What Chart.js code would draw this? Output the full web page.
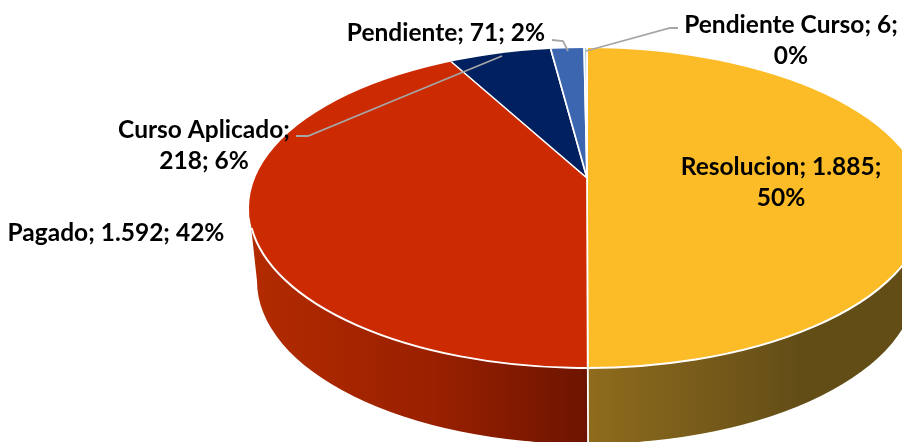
<!DOCTYPE html>
<html>
<head>
<meta charset="utf-8">
<script src="https://cdn.jsdelivr.net/npm/chart.js@4"></script>
<style>
  body { margin: 0; background: #fff; overflow: hidden; }
  canvas { display: block; }
</style>
</head>
<body>
<canvas id="chart-1" width="902" height="442"></canvas>
<script>
const categories = ['Resolucion', 'Pagado', 'Curso Aplicado', 'Pendiente', 'Pendiente Curso'];
const values = [1885, 1592, 218, 71, 6];
const formattedValues = ['1.885', '1.592', '218', '71', '6'];
const labelBreaks = [2, 3, 1, 3, 2];   // after which part the label wraps

const topColors = ['#FBBC27', '#CC2A00', '#002060', '#3C66B0', '#9DC3E6'];

// where the labels and leader lines go, in pixels of the picture
const labelSpots = [[781, 167], [116, 233], [204, 130], [446, 33], [791, 25]];
const leaders = [
    [[296, 136], [308, 136], [400, 98], [502, 56]],
    [[552, 40], [563, 41], [568, 51]],
    [[678, 28], [670, 28], [586, 51]]
];

// the pie is tilted: slices meet at the apex, the outline is an ellipse around another centre
const apex = { x: 587, y: 178 };
const top_ = { x: 587, y: 208, rx: 338, ry: 160 };
const bottom = { x: 587, y: 281, rx: 330, ry: 163 };
const scaleX = 2.5;
const scaleY = 1.147;

function tilt(ctx, grow) {
    ctx.translate(apex.x, apex.y);
    ctx.scale(scaleX * grow, scaleY * grow);
    ctx.translate(-apex.x, -apex.y);
}

function wallGradient(ctx, i) {
    const x = px => apex.x + (px - apex.x) / (scaleX * 1.8);
    if (i === 0) {
        const g = ctx.createLinearGradient(x(587), 0, x(800), 0);
        g.addColorStop(0, '#8F6C1D');
        g.addColorStop(1, '#634D17');
        return g;
    }
    const g = ctx.createLinearGradient(x(250), 0, x(587), 0);
    g.addColorStop(0, '#B32B00');
    g.addColorStop(0.55, '#992000');
    g.addColorStop(1, '#6D1400');
    return g;
}

const tiltedPie = {
    id: 'tiltedPie',
    beforeDatasetsDraw(chart) {
        const ctx = chart.ctx;
        ctx.save();
        ctx.beginPath();
        ctx.ellipse(top_.x, top_.y, top_.rx, top_.ry, 0, 0, Math.PI);
        ctx.lineTo(bottom.x - bottom.rx, bottom.y);
        ctx.ellipse(bottom.x, bottom.y, bottom.rx, bottom.ry, 0, Math.PI, 0, true);
        ctx.closePath();
        ctx.clip();
        tilt(ctx, 1.8);
        chart.getDatasetMeta(0).data.forEach((el, i) => {
            const wall = Object.create(el);
            wall.options = { ...el.options, backgroundColor: wallGradient(ctx, i), borderWidth: 0.35 };
            wall.draw(ctx);
        });
        ctx.restore();
    },
    beforeDatasetDraw(chart) {
        const ctx = chart.ctx;
        ctx.save();
        ctx.beginPath();
        ctx.ellipse(top_.x, top_.y, top_.rx, top_.ry, 0, 0, Math.PI * 2);
        ctx.clip();
        tilt(ctx, 1);
    },
    afterDatasetDraw(chart) {
        const ctx = chart.ctx;
        ctx.restore();
        // white rim on the front edge
        ctx.save();
        ctx.beginPath();
        ctx.ellipse(top_.x, top_.y, top_.rx, top_.ry, 0, 0.05, Math.PI - 0.125);
        ctx.strokeStyle = '#fff';
        ctx.lineWidth = 2;
        ctx.stroke();
        ctx.restore();
    },
    afterDraw(chart) {
        const ctx = chart.ctx;
        ctx.save();
        ctx.strokeStyle = '#A6A6A6';
        ctx.lineWidth = 1.8;
        leaders.forEach(points => {
            ctx.beginPath();
            points.forEach((p, i) => i ? ctx.lineTo(p[0], p[1]) : ctx.moveTo(p[0], p[1]));
            ctx.stroke();
        });
        const total = values.reduce((a, b) => a + b, 0);
        ctx.fillStyle = '#000';
        ctx.font = 'bold 24.5px Lato';
        ctx.textAlign = 'center';
        ctx.textBaseline = 'middle';
        categories.forEach((name, i) => {
            const parts = [name + ';', formattedValues[i] + ';', Math.round(values[i] / total * 100) + '%'];
            const first = parts.slice(0, labelBreaks[i]).join(' ');
            const second = parts.slice(labelBreaks[i]).join(' ');
            ctx.fillText(first, labelSpots[i][0], labelSpots[i][1]);
            if (second) ctx.fillText(second, labelSpots[i][0], labelSpots[i][1] + 31);
        });
        ctx.restore();
    }
};

new Chart(document.getElementById('chart-1'), {
    type: 'pie',
    data: {
        labels: categories,
        datasets: [{
            data: values,
            backgroundColor: topColors,
            borderColor: '#fff',
            borderWidth: 0.7,
            clip: false
        }]
    },
    options: {
        responsive: false,
        animation: false,
        layout: { padding: { left: 409, right: 137, top: 0, bottom: 86 } },
        plugins: { legend: { display: false }, tooltip: { enabled: false } }
    },
    plugins: [tiltedPie]
});
</script>
</body>
</html>
